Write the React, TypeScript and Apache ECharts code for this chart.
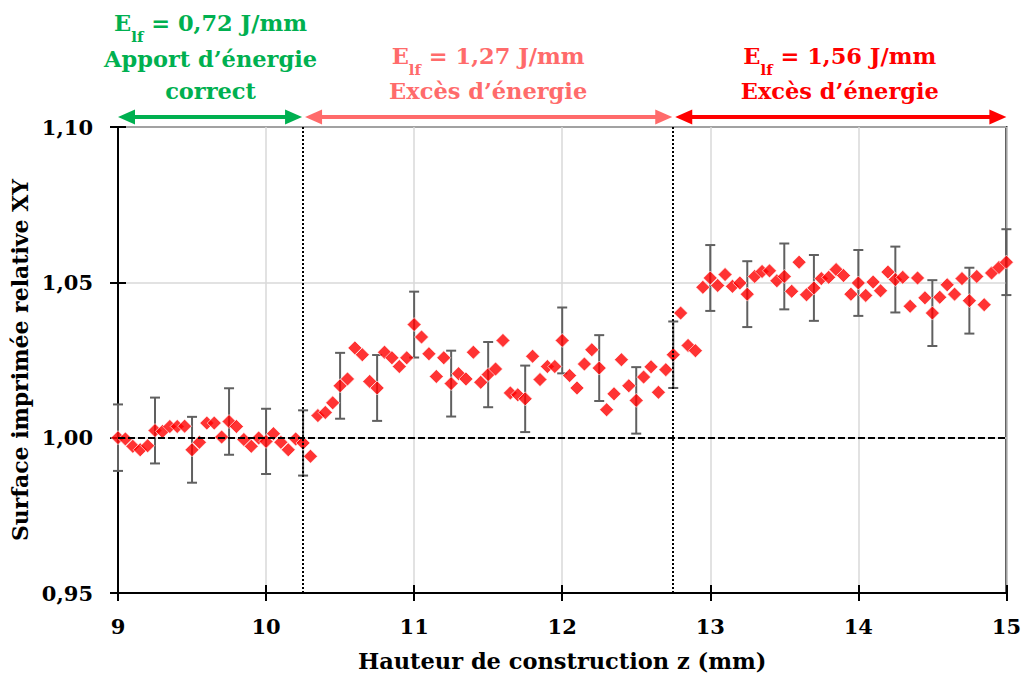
import React, { useEffect, useRef } from "react";
import * as echarts from "echarts";

// Height of construction z (mm) for each measured layer
const zValues = [
  9.0, 9.05, 9.1, 9.15, 9.2, 9.25, 9.3, 9.35, 9.4, 9.45,
  9.5, 9.55, 9.6, 9.65, 9.7, 9.75, 9.8, 9.85, 9.9, 9.95,
  10.0, 10.05, 10.1, 10.15, 10.2, 10.25, 10.3, 10.35, 10.4, 10.45,
  10.5, 10.55, 10.6, 10.65, 10.7, 10.75, 10.8, 10.85, 10.9, 10.95,
  11.0, 11.05, 11.1, 11.15, 11.2, 11.25, 11.3, 11.35, 11.4, 11.45,
  11.5, 11.55, 11.6, 11.65, 11.7, 11.75, 11.8, 11.85, 11.9, 11.95,
  12.0, 12.05, 12.1, 12.15, 12.2, 12.25, 12.3, 12.35, 12.4, 12.45,
  12.5, 12.55, 12.6, 12.65, 12.7, 12.75, 12.8, 12.85, 12.9, 12.95,
  13.0, 13.05, 13.1, 13.15, 13.2, 13.25, 13.3, 13.35, 13.4, 13.45,
  13.5, 13.55, 13.6, 13.65, 13.7, 13.75, 13.8, 13.85, 13.9, 13.95,
  14.0, 14.05, 14.1, 14.15, 14.2, 14.25, 14.3, 14.35, 14.4, 14.45,
  14.5, 14.55, 14.6, 14.65, 14.7, 14.75, 14.8, 14.85, 14.9, 14.95,
  15.0,
];

// Relative printed XY surface
const surfaceValues = [
  1.0, 0.9996, 0.9972, 0.9961, 0.9974, 1.0023, 1.002, 1.0036, 1.0036, 1.0037,
  0.9961, 0.9985, 1.0047, 1.0047, 1.0002, 1.0052, 1.0036, 0.9994, 0.9972, 0.9999,
  0.9988, 1.0013, 0.9985, 0.9961, 0.9996, 0.9983, 0.994, 1.0071, 1.0081, 1.0112,
  1.0167, 1.0189, 1.0289, 1.0267, 1.0181, 1.016, 1.0275, 1.0257, 1.0229, 1.0257,
  1.0364, 1.0324, 1.027, 1.0197, 1.0257, 1.0174, 1.0206, 1.0189, 1.0275, 1.0178,
  1.0203, 1.0221, 1.0313, 1.0144, 1.0138, 1.0125, 1.0262, 1.0187, 1.0229, 1.0229,
  1.0313, 1.02, 1.016, 1.0237, 1.0283, 1.0224, 1.009, 1.0141, 1.0251, 1.0167,
  1.012, 1.0195, 1.0228, 1.0146, 1.0219, 1.0267, 1.0401, 1.0297, 1.028, 1.0484,
  1.0514, 1.049, 1.0525, 1.0487, 1.0498, 1.0462, 1.0519, 1.0535, 1.0537, 1.0505,
  1.0519, 1.0471, 1.0565, 1.046, 1.0482, 1.0512, 1.0516, 1.0541, 1.0522, 1.0462,
  1.0498, 1.0458, 1.0501, 1.0473, 1.0533, 1.0509, 1.0516, 1.0423, 1.0514, 1.045,
  1.0401, 1.0452, 1.0492, 1.0462, 1.0512, 1.0441, 1.0519, 1.0428, 1.053, 1.0548,
  1.0565,
];

// Error bars: positions and half-widths
const errorX = [
  9.0, 9.25, 9.5, 9.75, 10.0, 10.25, 10.5, 10.75, 11.0, 11.25, 11.5, 11.75, 12.0,
  12.25, 12.5, 12.75, 13.0, 13.25, 13.5, 13.7, 14.0, 14.25, 14.5, 14.75, 15.0,
];
const errorHalf = [
  0.0107, 0.0106, 0.0106, 0.0107, 0.0105, 0.0105, 0.0106, 0.0106, 0.0106, 0.0106,
  0.0105, 0.0107, 0.0106, 0.0106, 0.0107, 0.0107, 0.0106, 0.0106, 0.0106, 0.0106,
  0.0106, 0.0106, 0.0106, 0.0106, 0.0106,
];

// Process zones
const zoneBounds = [9, 10.25, 12.75, 15];
const zoneEnergy = ["0,72", "1,27", "1,56"];
const zoneLines = [["Apport d’énergie", "correct"], ["Excès d’énergie"], ["Excès d’énergie"]];
const zoneColors = ["#00B050", "#FF6B6B", "#FF0000"];

const yTicks = { min: 0.95, max: 1.1, interval: 0.05 };
const xTicks = { min: 9, max: 15, interval: 1 };
const separators = [10.25, 12.75];
const referenceLevel = 1.0;

const FONT = "DejaVu Serif";

export default function App() {
  const ref = useRef<HTMLDivElement>(null);

  useEffect(() => {
    document.body.style.margin = "0";
    const chart = echarts.init(ref.current!, null, { renderer: "svg" });
    const gridTop = 127;
    const points = zValues.map((z, i) => [z, surfaceValues[i]]);
    const errData = errorX.map((x, k) => {
      const idx = zValues.findIndex((z) => Math.abs(z - x) < 1e-6);
      const c = surfaceValues[idx];
      return [x, c - errorHalf[k], c + errorHalf[k]];
    });
    const fmt = (v: number) => v.toFixed(2).replace(".", ",");

    chart.setOption({
      animation: false,
      backgroundColor: "#fff",
      textStyle: { fontFamily: FONT },
      grid: {
        left: 118,
        right: 17,
        top: gridTop,
        bottom: 85,
        show: true,
        borderColor: "#000",
        borderWidth: 2,
      },
      xAxis: [
        {
          type: "value",
          ...xTicks,
          name: "Hauteur de construction z (mm)",
          nameLocation: "middle",
          nameGap: 56,
          nameTextStyle: { fontFamily: FONT, fontWeight: "bold", fontSize: 22.5, color: "#000" },
          axisLine: { show: true, onZero: false, lineStyle: { color: "#000", width: 2 } },
          axisTick: { show: true, length: 8, lineStyle: { color: "#000", width: 2 } },
          axisLabel: { margin: 23, fontFamily: FONT, fontWeight: "bold", fontSize: 21, color: "#000" },
          splitLine: { show: true, lineStyle: { color: "#D9D9D9", width: 1.5 } },
        },
        {
          type: "value",
          ...xTicks,
          position: "bottom",
          axisLine: { show: false },
          axisTick: { show: true, inside: true, length: 8, lineStyle: { color: "#000", width: 2 } },
          axisLabel: { show: false },
          splitLine: { show: false },
        },
      ],
      yAxis: [
        {
          type: "value",
          ...yTicks,
          name: "Surface imprimée relative XY",
          nameLocation: "middle",
          nameGap: 84,
          nameTextStyle: { fontFamily: FONT, fontWeight: "bold", fontSize: 22, color: "#000" },
          axisLine: { show: true, onZero: false, lineStyle: { color: "#000", width: 2 } },
          axisTick: { show: true, length: 8, lineStyle: { color: "#000", width: 2 } },
          axisLabel: {
            margin: 25,
            fontFamily: FONT,
            fontWeight: "bold",
            fontSize: 21,
            color: "#000",
            formatter: fmt,
          },
          splitLine: { show: true, lineStyle: { color: "#D9D9D9", width: 1.5 } },
        },
        {
          type: "value",
          ...yTicks,
          position: "left",
          axisLine: { show: false },
          axisTick: { show: true, inside: true, length: 8, lineStyle: { color: "#000", width: 2 } },
          axisLabel: { show: false },
          splitLine: { show: false },
        },
      ],
      series: [
        {
          type: "custom",
          name: "err",
          z: 1,
          data: errData,
          encode: { x: 0, y: [1, 2] },
          renderItem: (params: any, api: any) => {
            const x = api.value(0);
            const lo = api.coord([x, api.value(1)]);
            const hi = api.coord([x, api.value(2)]);
            const cap = 5;
            const st = { stroke: "#606060", lineWidth: 2 };
            return {
              type: "group",
              children: [
                { type: "line", shape: { x1: lo[0], y1: lo[1], x2: hi[0], y2: hi[1] }, style: st },
                { type: "line", shape: { x1: lo[0] - cap, y1: lo[1], x2: lo[0] + cap, y2: lo[1] }, style: st },
                { type: "line", shape: { x1: hi[0] - cap, y1: hi[1], x2: hi[0] + cap, y2: hi[1] }, style: st },
              ],
            };
          },
        },
        {
          type: "scatter",
          name: "surface",
          z: 3,
          symbol: "diamond",
          symbolSize: 14,
          itemStyle: { color: "#FF0000", borderColor: "#fff", borderWidth: 0.8 },
          data: points,
          markLine: {
            silent: true,
            symbol: ["none", "none"],
            label: { show: false },
            z: 5,
            data: [
              ...separators.map((s) => ({
                xAxis: s,
                lineStyle: { color: "#000", width: 2, type: [2, 2] },
              })),
              { yAxis: referenceLevel, lineStyle: { color: "#000", width: 2, type: [7, 3] } },
            ],
          },
        },
      ],
    });

    // Zone annotations above the plot
    const arrowY = gridTop - 10;
    const head = 17;
    const hh = 7.5;
    const graphics: any[] = [];
    for (let k = 0; k < zoneEnergy.length; k++) {
      const xa = chart.convertToPixel({ xAxisIndex: 0 }, zoneBounds[k]) as number;
      const xb = chart.convertToPixel({ xAxisIndex: 0 }, zoneBounds[k + 1]) as number;
      const a = k === 0 ? xa : xa + 2;
      const b = k === zoneEnergy.length - 1 ? xb : xb - 1;
      const col = zoneColors[k];
      graphics.push({
        type: "line",
        shape: { x1: a + head - 2, y1: arrowY, x2: b - head + 2, y2: arrowY },
        style: { stroke: col, lineWidth: 4 },
      });
      graphics.push({
        type: "polygon",
        shape: { points: [[a, arrowY], [a + head, arrowY - hh], [a + head, arrowY + hh]] },
        style: { fill: col },
      });
      graphics.push({
        type: "polygon",
        shape: { points: [[b, arrowY], [b - head, arrowY - hh], [b - head, arrowY + hh]] },
        style: { fill: col },
      });
      const cx = (xa + xb) / 2;
      const lines = zoneLines[k];
      const lineGap = 32.5;
      const lastY = gridTop - 36;
      const totalLines = lines.length + 1;
      const firstY = lastY - (totalLines - 1) * lineGap;
      graphics.push({
        type: "text",
        x: cx,
        y: firstY + 2,
        style: {
          text: `{e|E}{s|lf}{e| = ${zoneEnergy[k]} J/mm}`,
          align: "center",
          verticalAlign: "middle",
          fill: col,
          rich: {
            e: { fontFamily: FONT, fontWeight: "bold", fontSize: 22.5, fill: col, lineHeight: 28, verticalAlign: "top" },
            s: { fontFamily: FONT, fontWeight: "bold", fontSize: 15, fill: col, lineHeight: 33, verticalAlign: "bottom" },
          },
        },
      });
      lines.forEach((t, j) => {
        graphics.push({
          type: "text",
          x: cx,
          y: firstY + (j + 1) * lineGap,
          style: {
            text: t,
            align: "center",
            verticalAlign: "middle",
            fill: col,
            fontFamily: FONT,
            fontWeight: "bold",
            fontSize: 22.5,
          },
        });
      });
    }
    chart.setOption({ graphic: graphics });

    return () => chart.dispose();
  }, []);

  return <div ref={ref} style={{ width: 1024, height: 678 }} />;
}
